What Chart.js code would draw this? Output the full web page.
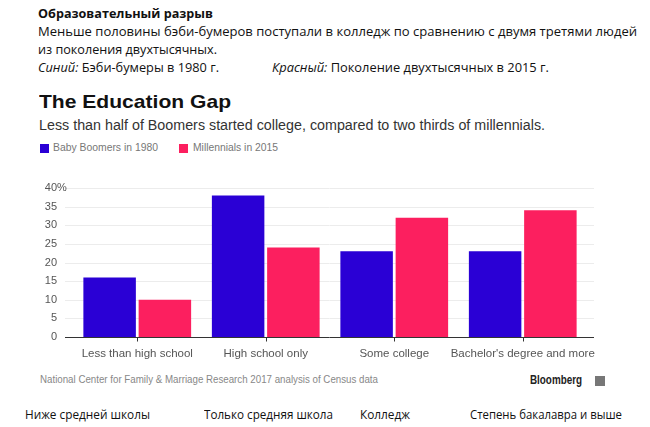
<!DOCTYPE html>
<html>
<head>
<meta charset="utf-8">
<script src="https://cdn.jsdelivr.net/npm/chart.js@4"></script>
<style>
  body { margin: 0; width: 650px; height: 427px; background: #fff; position: relative; overflow: hidden; }
  .t { position: absolute; white-space: nowrap; transform-origin: 0 50%; }
  .ru { font-family: "Open Sans", sans-serif; font-size: 13px; color: #111; }
  .bb { font-family: "Liberation Sans", Arial, sans-serif; }
  .sw { position: absolute; width: 9px; height: 9px; }
  #wrap { position: absolute; left: 0; top: 170px; width: 650px; height: 200px; }
</style>
</head>
<body>
<div class="t ru" data-w="175" style="left:38px;top:4px;font-weight:bold;">Образовательный разрыв</div>
<div class="t ru" data-w="599" style="left:38px;top:22px;">Меньше половины бэби-бумеров поступали в колледж по сравнению с двумя третями людей</div>
<div class="t ru" data-w="179" style="left:38px;top:40px;">из поколения двухтысячных.</div>
<div class="t ru" data-w="181" style="left:38px;top:58px;"><i>Синий:</i> Бэби-бумеры в 1980 г.</div>
<div class="t ru" data-w="277" style="left:272px;top:58px;"><i>Красный:</i> Поколение двухтысячных в 2015 г.</div>

<div class="t bb" data-w="192" style="left:39px;top:91px;font-size:19px;font-weight:bold;color:#111;">The Education Gap</div>
<div class="t bb" data-w="506" style="left:39px;top:117px;font-size:14px;color:#333;">Less than half of Boomers started college, compared to two thirds of millennials.</div>
<div id="sw1" class="sw" style="left:40px;top:144px;"></div>
<div id="lg1" class="t bb" data-w="105" style="left:53px;top:141px;font-size:11px;color:#777;"></div>
<div id="sw2" class="sw" style="left:179px;top:144px;"></div>
<div id="lg2" class="t bb" data-w="85" style="left:193px;top:141px;font-size:11px;color:#777;"></div>

<div id="wrap"><canvas id="myChart"></canvas></div>

<div class="t bb" data-w="338" style="left:40px;top:373px;font-size:11px;color:#888;">National Center for Family &amp; Marriage Research 2017 analysis of Census data</div>
<div class="t bb" data-w="52" style="left:530px;top:373px;font-size:12px;font-weight:bold;color:#222;">Bloomberg</div>
<div style="position:absolute;left:595px;top:376px;width:10px;height:10px;background:#777;"></div>

<div class="t ru" data-w="125" style="left:25px;top:405px;">Ниже средней школы</div>
<div class="t ru" data-w="129" style="left:204px;top:405px;">Только средняя школа</div>
<div class="t ru" data-w="50" style="left:360px;top:405px;">Колледж</div>
<div class="t ru" data-w="152" style="left:470px;top:405px;">Степень бакалавра и выше</div>

<script>
const categories = ['Less than high school', 'High school only', 'Some college', "Bachelor's degree and more"];
const boomers1980 = [16, 38, 23, 23];
const millennials2015 = [10, 24, 32, 34];
const yTicks = [0, 5, 10, 15, 20, 25, 30, 35, 40];
const seriesNames = ['Baby Boomers in 1980', 'Millennials in 2015'];
const blue = '#2a00d5';
const pink = '#fc1f5f';

document.getElementById('lg1').textContent = seriesNames[0];
document.getElementById('lg2').textContent = seriesNames[1];
document.getElementById('sw1').style.background = blue;
document.getElementById('sw2').style.background = pink;

// squeeze the text lines to the widths seen in the picture
document.querySelectorAll('[data-w]').forEach(function (el) {
    var w = el.getBoundingClientRect().width;
    var target = parseFloat(el.dataset.w);
    el.style.transform = 'scaleX(' + (target / w) + ')';
});

// gridlines, axis line, tick marks and y labels like the Bloomberg style
const bbAxes = {
    id: 'bbAxes',
    beforeDatasetsDraw(chart) {
        const ctx = chart.ctx;
        const y = chart.scales.y;
        ctx.save();
        ctx.strokeStyle = '#ececec';
        ctx.lineWidth = 1;
        yTicks.forEach(function (v) {
            if (v === 0) return;
            const py = Math.round(y.getPixelForValue(v)) + 0.5;
            ctx.beginPath();
            ctx.moveTo(65, py);
            ctx.lineTo(594, py);
            ctx.stroke();
        });
        ctx.fillStyle = '#555';
        ctx.font = '11px "Liberation Sans", Arial, sans-serif';
        ctx.textBaseline = 'middle';
        yTicks.forEach(function (v) {
            const py = y.getPixelForValue(v);
            ctx.textAlign = 'right';
            ctx.fillText(String(v), 57, py);
            if (v === 40) {
                ctx.textAlign = 'left';
                ctx.fillText('%', 57, py);
            }
        });
        ctx.restore();
    },
    afterDatasetsDraw(chart) {
        const ctx = chart.ctx;
        const y = chart.scales.y;
        const x = chart.scales.x;
        const py = Math.round(y.getPixelForValue(0)) + 0.5;
        ctx.save();
        ctx.strokeStyle = '#333';
        ctx.lineWidth = 1;
        ctx.beginPath();
        ctx.moveTo(65, py);
        ctx.lineTo(594, py);
        categories.forEach(function (c, i) {
            const px = Math.round(x.getPixelForValue(i)) + 0.5;
            ctx.moveTo(px, py);
            ctx.lineTo(px, py + 4);
        });
        ctx.stroke();
        ctx.restore();
    }
};

new Chart(document.getElementById('myChart'), {
    type: 'bar',
    data: {
        labels: categories,
        datasets: [{
            label: seriesNames[0],
            data: boomers1980,
            backgroundColor: blue
        }, {
            label: seriesNames[1],
            data: millennials2015,
            backgroundColor: pink
        }]
    },
    options: {
        responsive: true,
        maintainAspectRatio: false,
        animation: false,
        layout: { padding: { left: 73, right: 63, top: 18, bottom: 0 } },
        datasets: { bar: { categoryPercentage: 0.86, barPercentage: 0.95 } },
        plugins: { legend: { display: false }, tooltip: { enabled: false } },
        scales: {
            x: {
                grid: { display: false, drawTicks: false },
                border: { display: false },
                ticks: { color: '#555', font: { family: '"Liberation Sans", Arial, sans-serif', size: 11.5 }, padding: 10, maxRotation: 0, autoSkip: false },
                afterFit: function (scale) { scale.height = 33; }
            },
            y: {
                min: 0, max: 40,
                ticks: { display: false, stepSize: 5 },
                grid: { display: false, drawTicks: false },
                border: { display: false },
                afterFit: function (scale) { scale.width = 0; }
            }
        }
    },
    plugins: [bbAxes]
});
</script>
</body>
</html>
